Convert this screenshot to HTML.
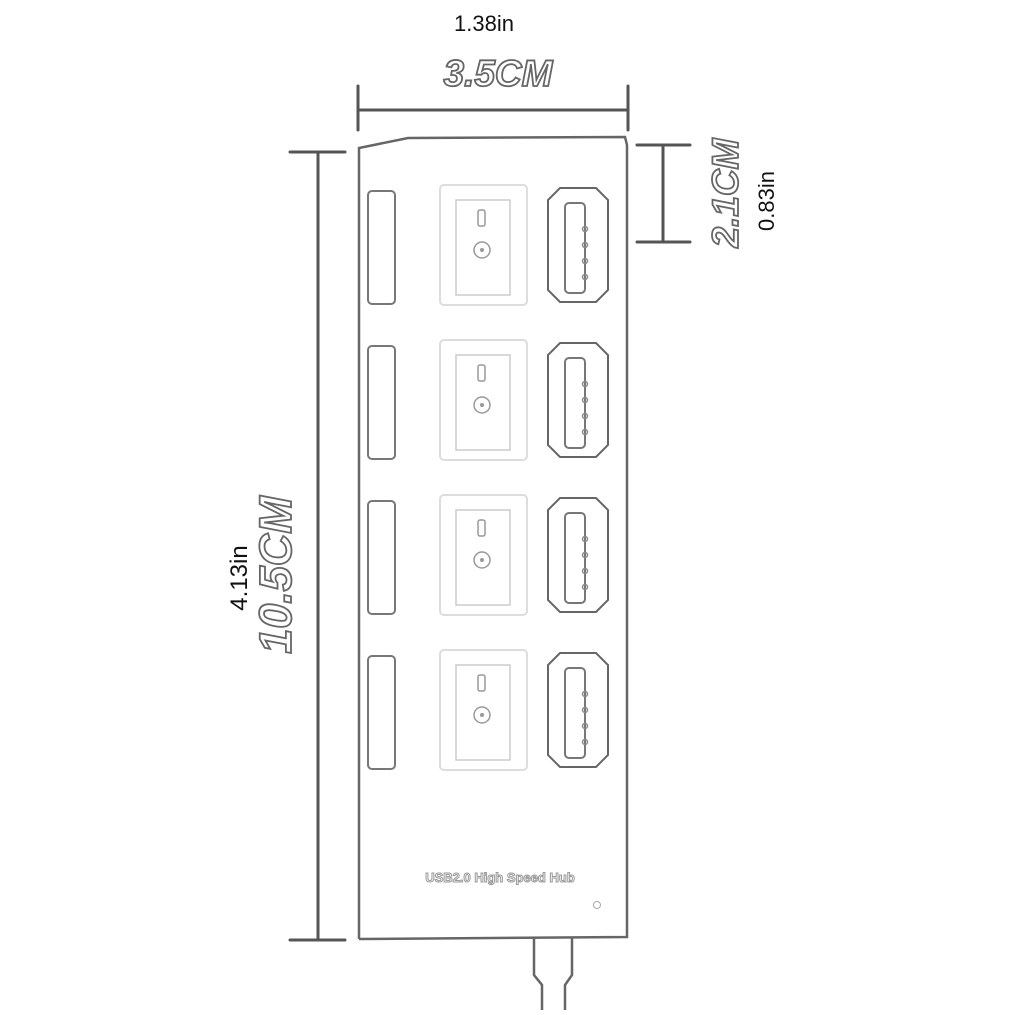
<!DOCTYPE html><html><head><style>body{margin:0;background:#fff}</style></head><body>
<svg width="1010" height="1010" viewBox="0 0 1010 1010" xmlns="http://www.w3.org/2000/svg" font-family="Liberation Sans, sans-serif">
<g stroke="#555" stroke-width="3" fill="none" stroke-linecap="round">
<line x1="358" y1="110" x2="628" y2="110"/><line x1="358" y1="86" x2="358" y2="130"/><line x1="628" y1="86" x2="628" y2="130"/>
<line x1="318" y1="152" x2="318" y2="940"/><line x1="290" y1="152" x2="345" y2="152"/><line x1="290" y1="940" x2="345" y2="940"/>
<line x1="663" y1="145" x2="663" y2="242"/><line x1="637" y1="145" x2="690" y2="145"/><line x1="637" y1="242" x2="690" y2="242"/>
</g>
<g stroke="#666" stroke-width="2.5" fill="none">
<path d="M359 939 L359 148 L408 138 L625 137 L627 145 L627 937 L359 939"/>
<path d="M534 938 L534 975 L542 985 L542 1010 M572 938 L572 975 L565 985 L565 1010"/>
</g>
<g id="r">
<rect x="368" y="191" width="27" height="113" rx="4" stroke="#777" stroke-width="2" fill="none"/>
<rect x="440" y="185" width="87" height="120" rx="4" stroke="#ddd" stroke-width="2" fill="none"/>
<rect x="456" y="200" width="54" height="95" stroke="#ccc" stroke-width="1.5" fill="none"/>
<rect x="478" y="210" width="7" height="16" rx="2" stroke="#999" stroke-width="1.5" fill="none"/>
<circle cx="482" cy="250" r="8" stroke="#999" stroke-width="1.5" fill="none"/>
<circle cx="482" cy="250" r="2" fill="#999"/>
<path d="M560 188 L596 188 L608 200 L608 290 L596 302 L560 302 L548 290 L548 200 Z" stroke="#666" stroke-width="2" fill="none"/>
<rect x="565" y="203" width="20" height="90" rx="4" stroke="#777" stroke-width="2" fill="none"/>
<g fill="none" stroke="#888" stroke-width="1.5"><circle cx="585" cy="229" r="2.5"/><circle cx="585" cy="245" r="2.5"/><circle cx="585" cy="261" r="2.5"/><circle cx="585" cy="277" r="2.5"/></g>
</g>
<use href="#r" y="155"/><use href="#r" y="310"/><use href="#r" y="465"/>
<text x="500" y="882" font-size="13" font-weight="bold" text-anchor="middle" fill="#fff" stroke="#999" stroke-width="1">USB2.0 High Speed Hub</text>
<circle cx="597" cy="905" r="3.5" stroke="#aaa" fill="none"/>
<text x="484" y="31" font-size="22" text-anchor="middle" fill="#111">1.38in</text>
<text x="498" y="86" font-size="37" font-weight="bold" font-style="italic" text-anchor="middle" fill="#fff" stroke="#666" stroke-width="1.8">3.5CM</text>
<text transform="translate(247,578) rotate(-90)" font-size="24" text-anchor="middle" fill="#111">4.13in</text>
<text transform="translate(291,575) rotate(-90)" font-size="45" font-weight="bold" font-style="italic" text-anchor="middle" fill="#fff" stroke="#666" stroke-width="1.8">10.5CM</text>
<text transform="translate(738,193) rotate(-90)" font-size="37" font-weight="bold" font-style="italic" text-anchor="middle" fill="#fff" stroke="#666" stroke-width="1.8">2.1CM</text>
<text transform="translate(774,201) rotate(-90)" font-size="22" text-anchor="middle" fill="#111">0.83in</text>
</svg>
</body></html>
